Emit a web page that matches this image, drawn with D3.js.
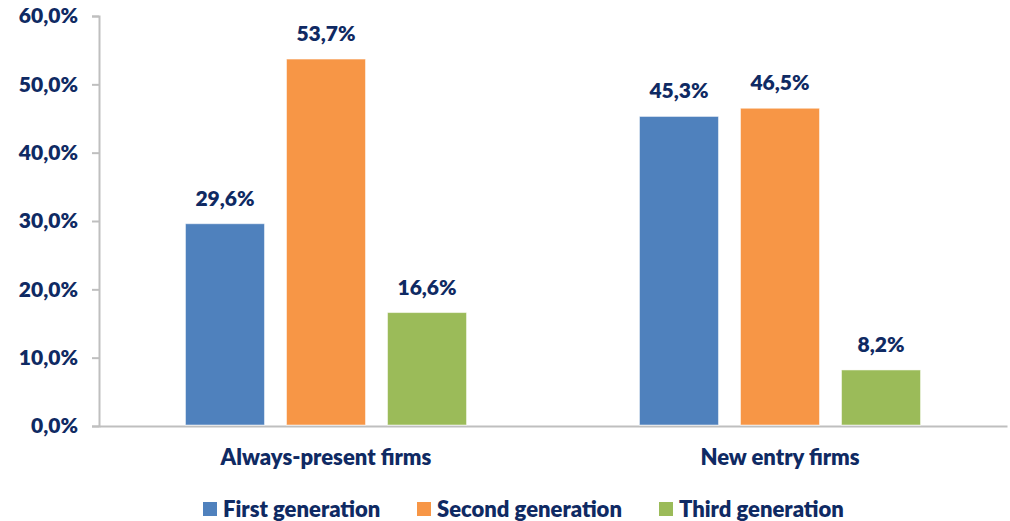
<!DOCTYPE html>
<html>
<head>
<meta charset="utf-8">
<script src="https://cdn.jsdelivr.net/npm/d3@7"></script>
<style>
  body { margin: 0; background: #fff; }
  text { font-family: Lato, "Noto Sans", sans-serif; font-weight: 800; fill: #0f2a63; }
</style>
</head>
<body>
<script>
var categories = ["Always-present firms", "New entry firms"];
var seriesNames = ["First generation", "Second generation", "Third generation"];
var firstGen = [29.6, 45.3];
var secondGen = [53.7, 46.5];
var thirdGen = [16.6, 8.2];
var yTicks = [0, 10, 20, 30, 40, 50, 60];
var colors = ["#4f81bd", "#f79646", "#9bbb59"];

var width = 1010, height = 521;
var margin = {top: 16, right: 3, bottom: 95, left: 99};
var innerW = width - margin.left - margin.right,
    innerH = height - margin.top - margin.bottom;

var fmt = function(v) { return v.toFixed(1).replace(".", ",") + "%"; };

var svg = d3.select("body").append("svg")
    .attr("width", width)
    .attr("height", height);

var g = svg.append("g")
    .attr("transform", "translate(" + margin.left + "," + margin.top + ")");

var x0 = d3.scaleBand().domain(categories).range([0, innerW]).padding(0);
var x1 = d3.scaleBand().domain(seriesNames).range([0, x0.bandwidth()])
    .paddingInner(0.218).paddingOuter(0.856);
var y = d3.scaleLinear().domain([0, 60]).range([innerH, 0]);

// y axis
var yAxis = g.append("g")
    .call(d3.axisLeft(y).tickValues(yTicks).tickSize(7).tickPadding(14).tickFormat(fmt));
yAxis.select(".domain").attr("stroke", "#bfbfbf").attr("stroke-width", 2);
yAxis.selectAll(".tick line").attr("stroke", "#bfbfbf").attr("stroke-width", 2);
yAxis.selectAll(".tick text").style("font-size", "21px").attr("fill", "#0f2a63");

// x axis
var xAxis = g.append("g")
    .attr("transform", "translate(0," + innerH + ")")
    .call(d3.axisBottom(x0).tickSize(0).tickPadding(23));
xAxis.select(".domain").attr("stroke", "#bfbfbf").attr("stroke-width", 2);
xAxis.selectAll(".tick text").style("font-size", "22px").attr("fill", "#0f2a63");

var rows = categories.map(function(c, i) {
  return {cat: c, values: [firstGen[i], secondGen[i], thirdGen[i]]};
});

var groups = g.selectAll(".grp")
    .data(rows)
  .enter().append("g")
    .attr("class", "grp")
    .attr("transform", function(d) { return "translate(" + x0(d.cat) + ",0)"; });

var cells = groups.selectAll(".cell")
    .data(function(d) {
      return d.values.map(function(v, j) { return {name: seriesNames[j], value: v, j: j}; });
    })
  .enter().append("g").attr("class", "cell");

cells.append("rect")
    .attr("x", function(d) { return x1(d.name); })
    .attr("y", function(d) { return y(d.value); })
    .attr("width", x1.bandwidth())
    .attr("height", function(d) { return innerH - y(d.value) - 1; })
    .attr("fill", function(d) { return colors[d.j]; })
    .attr("stroke", "#ffffff")
    .attr("stroke-opacity", 0.5)
    .attr("stroke-width", 1);

cells.append("text")
    .attr("x", function(d) { return x1(d.name) + x1.bandwidth() / 2; })
    .attr("y", function(d) { return y(d.value) - 18; })
    .attr("text-anchor", "middle")
    .style("font-size", "21px")
    .text(function(d) { return fmt(d.value); });

// legend
var legendX = [203, 417, 659];
var legend = svg.append("g").attr("transform", "translate(0,502)");
var items = legend.selectAll(".leg")
    .data(seriesNames)
  .enter().append("g")
    .attr("class", "leg")
    .attr("transform", function(d, i) { return "translate(" + legendX[i] + ",0)"; });
items.append("rect")
    .attr("width", 14).attr("height", 14)
    .attr("fill", function(d, i) { return colors[i]; });
items.append("text")
    .attr("x", 20).attr("y", 15)
    .style("font-size", "22px")
    .text(function(d) { return d; });
</script>
</body>
</html>
